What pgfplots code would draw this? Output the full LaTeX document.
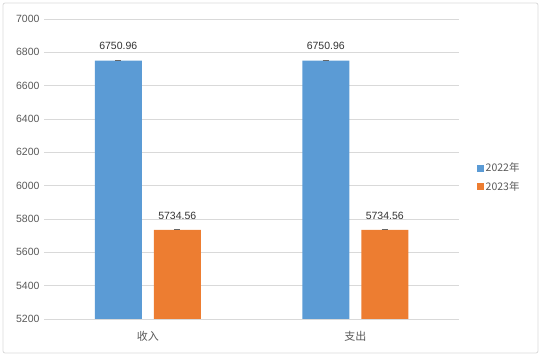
\documentclass[border=0pt]{standalone}
\usepackage{pgfplots}
\pgfplotsset{compat=1.18}
\usepackage{fontspec}
\setmainfont{Liberation Sans}
\newfontfamily\cjk{Noto Sans CJK SC}
\definecolor{cblue}{HTML}{5B9BD5}
\definecolor{corange}{HTML}{ED7D31}
\definecolor{ctext}{HTML}{595959}
\definecolor{cgrid}{HTML}{D9D9D9}
\begin{document}
\begin{tikzpicture}
\draw[cgrid, line width=0.75bp, rounded corners=2bp] (3bp,4bp) rectangle (538bp,354bp);
\begin{axis}[
  at={(44bp,38bp)}, anchor=south west,
  scale only axis, width=415bp, height=300bp,
  ybar=12bp, bar width=47bp,
  xmin=-0.5, xmax=1.5,
  ymin=5200, ymax=7000,
  ytick={5200,5400,...,7000},
  xtick={0,1},
  xticklabels={收入,支出},
  xticklabel style={font=\cjk\fontsize{11bp}{13bp}\selectfont, text=ctext, yshift=-4bp},
  yticklabel style={font=\fontsize{10.5bp}{12bp}\selectfont, text=ctext, xshift=-1bp},
  /pgf/number format/assume math mode=true,
  /pgf/number format/1000 sep={},
  axis line style={draw=none},
  tick style={draw=none},
  ymajorgrids, major grid style={cgrid, line width=0.75bp},
  nodes near coords,
  nodes near coords style={font=\fontsize{10.5bp}{12bp}\selectfont, text=black!80, anchor=south, inner sep=0pt, yshift=10.5bp,
     /pgf/number format/fixed, /pgf/number format/precision=2, /pgf/number format/fixed zerofill, /pgf/number format/1000 sep={}},
  legend style={at={(rel axis cs:1.035,0.472)}, anchor=west, draw=none, fill=none,
     font=\cjk\fontsize{10.5bp}{12bp}\selectfont, text=ctext, row sep=4bp,
     /tikz/every even column/.append style={column sep=0pt}},
  legend cell align=left,
  legend image code/.code={\fill[#1] (0bp,-3.5bp) rectangle (7bp,3.5bp);},
  error bars/y dir=both, error bars/y explicit,
  error bars/error bar style={color=black!60, line width=1bp},
  error bars/error mark options={color=black!60, line width=1bp, mark size=3bp, rotate=90},
]
\addplot[fill=cblue, draw=none] coordinates {(0,6750.96) +- (0,0) (1,6750.96) +- (0,0)};
\addplot[fill=corange, draw=none] coordinates {(0,5734.56) +- (0,0) (1,5734.56) +- (0,0)};
\legend{2022年,2023年}
\end{axis}
\pgfresetboundingbox
\useasboundingbox (0,0) rectangle (542bp,357bp);
\end{tikzpicture}
\end{document}
